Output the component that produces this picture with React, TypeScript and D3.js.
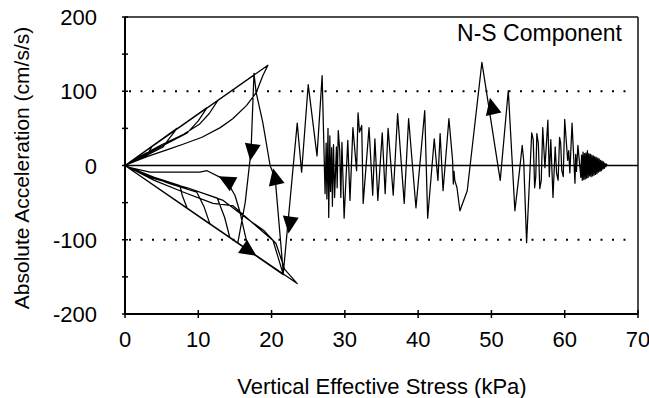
import React from "react";
import * as d3 from "d3";

// Acceleration vs. vertical effective stress, traced in time order
// (effective stress falls from ~66 kPa toward liquefaction at 0).
type Pt = [number, number];

// Decaying early motion at high effective stress
const earlyTail: Pt[] = [
  [65.8, 0], [65.7, 2], [65.6, -2], [65.5, 3], [65.4, -4], [65.3, 5], [65.2, -5],
  [65.1, 6], [65.0, -7], [64.9, 7], [64.8, -8], [64.7, 9], [64.6, -9], [64.5, 10],
  [64.4, -11], [64.3, 11], [64.2, -12], [64.1, 12], [64.0, -13], [63.9, 13],
  [63.8, -14], [63.7, 14], [63.6, -15], [63.5, 15], [63.4, -14], [63.3, 16],
  [63.2, -16], [63.1, 20], [63.0, -17], [62.9, 17], [62.8, -18], [62.7, 16],
  [62.6, -19], [62.5, 18], [62.4, -20], [62.3, 14], [62.2, -16],
  [61.8, 27], [61.6, -8], [61.5, 15], [61.4, -24], [61.0, 57], [60.7, -10],
  [60.55, 20], [60.4, 7], [60.0, 62], [59.8, -15], [59.6, -7], [59.45, 30],
  [59.3, 38], [59.1, -20], [58.9, -11], [58.7, 25], [58.4, -43], [58.1, 35],
  [57.9, -15], [57.7, 61], [57.3, -3], [57.0, 51], [56.8, -20], [56.6, -31],
  [56.4, 30], [56.2, 43], [56.05, -15], [55.9, -30], [55.7, 35], [55.5, 44],
];

// Strong shaking between 55 and 41 kPa
const strongShaking: Pt[] = [
  [54.8, -104], [54.4, 7], [54.2, 27], [53.8, -10], [53.2, -61], [52.3, 101],
  [51.2, -20], [48.7, 139], [46.7, -34], [45.7, -61], [45.3, -30], [45.0, -20],
  [44.9, -8], [44.8, -25], [44.7, 7], [44.2, 63], [43.4, -34], [43.0, 43],
  [42.7, -20], [42.2, 36], [41.3, -71], [40.9, 74],
];

// Dense cycling between 41 and 24 kPa
const pressureBuildUp: Pt[] = [
  [39.7, -57], [38.7, 63], [38.1, -51], [37.2, 70], [36.6, -40], [35.9, 50],
  [35.5, -38], [35.1, 44], [34.5, -47], [34.1, 36], [33.8, -40], [33.3, 51],
  [32.5, -51], [32.3, 54], [32.0, 45], [31.8, 71], [31.6, -7], [31.1, 51],
  [30.7, -47], [30.4, 34], [29.9, -71], [29.6, 31], [29.45, -43], [29.3, 20],
  [29.1, 47], [28.95, -30], [28.85, 25], [28.6, -43], [28.45, 28], [28.3, -55],
  [28.2, 24], [28.05, -35], [27.95, 40], [27.8, -70], [27.7, 50], [27.55, -45],
  [27.45, 30], [27.3, -38], [26.9, 121], [26.2, 13], [25.0, 109], [24.1, -9],
  [23.5, 57],
];

// First large excursions into cyclic mobility
const transition: Pt[] = [
  [21.6, -145], [20.5, -18], [19.8, 0], [18.8, 58], [17.9, 98], [17.6, 124],
  [17.2, 20], [16.4, -50], [15.4, -104], [17.0, -117], [16.4, -94], [15.7, -63],
  [15.0, -40], [14.0, -23], [13.0, -16], [11.2, -7], [10.2, -9], [3.4, -9],
  [0.7, -3], [0, 0],
];

// Butterfly loops around zero effective stress
const butterflyLoops: Pt[] = [
  [19.5, 135], [18.8, 121], [17.9, 98], [16.6, 81], [14.7, 63], [13, 51],
  [10.5, 38], [8, 29], [6, 22], [3, 12], [1, 4], [0, 0],
  [14.3, -97], [13.6, -70], [12.6, -44], [8.5, -30], [3.4, -16], [0, 0],
  [12.7, 88], [11.5, 70], [10.2, 56], [8, 42], [5, 28], [2, 12], [0, 0],
  [11.6, -79], [10.8, -56], [9.8, -36], [6, -24], [3, -13], [0, 0],
  [11.2, 78], [10.0, 60], [8.5, 44], [6, 31], [3, 16], [0, 0],
  [8.5, -58], [7.8, -40], [7.5, -27], [4, -16], [0, 0],
  [7.1, 50], [6, 36], [5.2, 25], [3, 14], [0, 0],
  [21.6, -147], [20.2, -101], [17.5, -78], [14.7, -54], [12, -51], [8, -36],
  [4, -20], [0, 0],
  [23.5, -159], [21.8, -140], [20.6, -105], [19, -88], [17, -74], [13.4, -47],
  [8.5, -30], [3.4, -16], [0, 0],
  [3.7, 26], [3, 14], [1.5, 6], [0, 0],
];

// Direction arrows: position and a point they head toward
const arrows: [number, number, number, number][] = [
  [17.3, 20, 15.4, -104],
  [20.5, -17, 17.9, 98],
  [22.5, -78, 21.6, -145],
  [14.0, -21, 12.5, -13],
  [16.8, -114, 23.5, -159],
  [50.1, 78, 48.7, 139],
];

const xTickValues = [0, 10, 20, 30, 40, 50, 60, 70];
const yTickValues = [-200, -100, 0, 100, 200];
const yMinorTicks = [-200, -150, -100, -50, 0, 50, 100, 150, 200];
const dottedRefs = [100, -100];

const W = 649;
const H = 398;
const FONT = "'Liberation Sans', Arial, Helvetica, sans-serif";

export default function App() {
  const x = d3.scaleLinear().domain([0, 70]).range([125, 638]);
  const y = d3.scaleLinear().domain([-200, 200]).range([314, 17]);

  const trace = [...earlyTail, ...strongShaking, ...pressureBuildUp, ...transition, ...butterflyLoops];
  const line = d3
    .line<Pt>()
    .x((d) => x(d[0]))
    .y((d) => y(d[1]));

  const [x0, x1] = x.range();
  const [yB, yT] = y.range();

  const arrowPaths = arrows.map(([ax, ay, tx, ty]) => {
    const px = x(ax);
    const py = y(ay);
    const dx = x(tx) - px;
    const dy = y(ty) - py;
    const len = Math.hypot(dx, dy) || 1;
    const ux = dx / len;
    const uy = dy / len;
    const L = 17;
    const B = 8;
    const tipX = px + ux * L * 0.6;
    const tipY = py + uy * L * 0.6;
    const bx = px - ux * L * 0.4;
    const by = py - uy * L * 0.4;
    return `M${tipX},${tipY}L${bx - uy * B},${by + ux * B}L${bx + uy * B},${by - ux * B}Z`;
  });

  return (
    <svg
      width={W}
      height={H}
      style={{ position: "absolute", left: 0, top: 0, background: "#fff" }}
      fontFamily={FONT}
    >
      <rect x={0} y={0} width={W} height={H} fill="#fff" />

      {/* dotted reference lines */}
      {dottedRefs.map((v) => (
        <line
          key={v}
          x1={x0 + 4}
          x2={x1 - 4}
          y1={y(v)}
          y2={y(v)}
          stroke="#000"
          strokeWidth={2}
          strokeDasharray="2 9.5"
        />
      ))}

      {/* zero line */}
      <line x1={x0} x2={x1} y1={y(0)} y2={y(0)} stroke="#000" strokeWidth={1.6} />

      {/* trace */}
      <path d={line(trace) ?? ""} fill="none" stroke="#000" strokeWidth={1.25} strokeLinejoin="round" />

      {arrowPaths.map((d, i) => (
        <path key={i} d={d} fill="#000" />
      ))}

      {/* frame */}
      <line x1={x0} x2={x1} y1={yT} y2={yT} stroke="#111" strokeWidth={1.3} />
      <line x1={x1} x2={x1} y1={yT} y2={yB} stroke="#111" strokeWidth={1.5} />
      <line x1={x0} x2={x1} y1={yB} y2={yB} stroke="#000" strokeWidth={2} />
      <line x1={x0} x2={x0} y1={yT} y2={yB} stroke="#000" strokeWidth={2} />

      {/* y ticks */}
      {yMinorTicks.map((v) => (
        <line key={v} x1={x0 - 3} x2={x0 + 3} y1={y(v)} y2={y(v)} stroke="#000" strokeWidth={1.5} />
      ))}
      {yTickValues.map((v) => (
        <text key={v} x={97} y={y(v) + 8} textAnchor="end" fontSize={22} fill="#000">
          {v}
        </text>
      ))}

      {/* x ticks */}
      {xTickValues.map((v) => (
        <line key={v} x1={x(v)} x2={x(v)} y1={yB - 4} y2={yB + 4} stroke="#000" strokeWidth={1.5} />
      ))}
      {xTickValues.map((v) => (
        <text key={v} x={x(v)} y={347} textAnchor="middle" fontSize={22} fill="#000">
          {v}
        </text>
      ))}

      {/* titles */}
      <text x={382} y={394} textAnchor="middle" fontSize={22} fill="#000">
        Vertical Effective Stress (kPa)
      </text>
      <text
        transform={`translate(29,168) rotate(-90)`}
        textAnchor="middle"
        fontSize={21}
        fill="#000"
      >
        Absolute Acceleration (cm/s/s)
      </text>
      <text x={622} y={41} textAnchor="end" fontSize={23} fill="#000">
        N-S Component
      </text>
    </svg>
  );
}
